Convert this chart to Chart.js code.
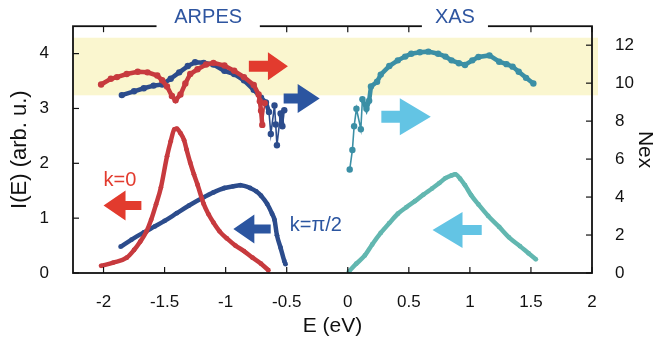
<!DOCTYPE html>
<html>
<head>
<meta charset="utf-8">
<script src="https://cdn.jsdelivr.net/npm/chart.js@4"></script>
<style>
  html, body { margin: 0; padding: 0; background: #fff; }
</style>
</head>
<body>
<canvas id="chart" width="657" height="340"></canvas>
<script>
// ─── Données ──────────────────────────────────────────────────────────────────
// ARPES k=0 (bas, axe gauche I(E))
const arpesK0E = [-2.02, -1.92, -1.81, -1.75, -1.70, -1.65, -1.61, -1.57, -1.53, -1.48, -1.45, -1.42, -1.40, -1.37, -1.34, -1.32, -1.29, -1.26, -1.23, -1.18, -1.14, -1.10, -1.05, -0.99, -0.92, -0.85, -0.78, -0.71, -0.65];
const arpesK0I = [0.13, 0.19, 0.28, 0.42, 0.57, 0.75, 0.97, 1.25, 1.56, 2.13, 2.40, 2.62, 2.63, 2.55, 2.42, 2.25, 2.01, 1.80, 1.61, 1.26, 1.07, 0.92, 0.76, 0.63, 0.50, 0.40, 0.28, 0.17, 0.05];

// ARPES k=π/2 (bas, axe gauche)
const arpesKpiE = [-1.86, -1.77, -1.67, -1.58, -1.50, -1.40, -1.30, -1.18, -1.10, -1.01, -0.94, -0.88, -0.80, -0.75, -0.71, -0.66, -0.62, -0.60, -0.58, -0.55, -0.52, -0.51];
const arpesKpiI = [0.48, 0.61, 0.74, 0.85, 0.95, 1.09, 1.23, 1.38, 1.47, 1.55, 1.58, 1.60, 1.55, 1.49, 1.41, 1.26, 1.08, 0.97, 0.69, 0.46, 0.22, 0.16];

// XAS (bas, axe gauche)
const xasE = [0.01, 0.07, 0.14, 0.20, 0.27, 0.34, 0.41, 0.48, 0.55, 0.62, 0.69, 0.75, 0.80, 0.85, 0.88, 0.92, 0.96, 1.01, 1.07, 1.15, 1.24, 1.32, 1.41, 1.48, 1.54];
const xasI = [0.03, 0.17, 0.32, 0.52, 0.73, 0.91, 1.08, 1.20, 1.31, 1.43, 1.54, 1.64, 1.73, 1.78, 1.80, 1.72, 1.60, 1.42, 1.25, 1.04, 0.84, 0.65, 0.49, 0.36, 0.25];

// Nex (haut, axe droit)
const nexK0E = [-2.02, -1.94, -1.89, -1.81, -1.72, -1.64, -1.56, -1.52, -1.48, -1.44, -1.41, -1.37, -1.33, -1.29, -1.23, -1.16, -1.10, -1.01, -0.93, -0.85, -0.77, -0.73, -0.72, -0.71, -0.70, -0.68];
const nexK0N = [9.93, 10.23, 10.32, 10.48, 10.6, 10.57, 10.4, 10.15, 9.82, 9.32, 9.1, 9.4, 9.98, 10.48, 10.73, 10.98, 11.07, 10.93, 10.65, 10.32, 9.9, 9.4, 9.05, 8.55, 7.8, 8.95];

const nexKpiE = [-1.85, -1.75, -1.67, -1.59, -1.52, -1.45, -1.38, -1.31, -1.25, -1.18, -1.10, -1.01, -0.93, -0.85, -0.77, -0.71, -0.67, -0.645, -0.63, -0.60, -0.59, -0.58, -0.55, -0.535, -0.52];
const nexKpiN = [9.37, 9.57, 9.73, 9.87, 9.93, 10.23, 10.57, 10.9, 11.1, 11.07, 10.98, 10.65, 10.48, 10.15, 9.65, 9.23, 8.98, 8.48, 7.32, 8.82, 7.82, 6.73, 8.4, 7.73, 8.57];

const nexXasE = [0.016, 0.038, 0.052, 0.071, 0.107, 0.12, 0.153, 0.175, 0.19, 0.24, 0.27, 0.34, 0.41, 0.47, 0.52, 0.59, 0.66, 0.74, 0.80, 0.85, 0.91, 0.96, 1.02, 1.07, 1.16, 1.24, 1.30, 1.35, 1.40, 1.46, 1.52];
const nexXasN = [5.45, 6.48, 7.73, 8.65, 7.57, 9.15, 8.65, 9.07, 9.82, 10.07, 10.45, 10.9, 11.2, 11.4, 11.55, 11.63, 11.66, 11.55, 11.4, 11.2, 11.05, 10.96, 11.2, 11.38, 11.46, 11.13, 11.0, 10.87, 10.6, 10.28, 9.98];

// Graduations
const xTicks = [-2, -1.5, -1, -0.5, 0, 0.5, 1, 1.5, 2];
const leftTicks = [0, 1, 2, 3, 4];
const rightTicks = [0, 2, 4, 6, 8, 10, 12];
const bandRange = [3.24, 4.29]; // bande jaune, unités de l'axe gauche

// ─── Style ────────────────────────────────────────────────────────────────────
Chart.defaults.font.family = "'Liberation Sans', Arial, Helvetica, sans-serif";
Chart.defaults.color = "#111";

const COLORS = {
  red: "#c73a3e",
  blue: "#2c4c8c",
  tealDark: "#3b8fa5",
  teal: "#62b7b0",
  arrowRed: "#e23b2e",
  arrowBlue: "#2b55a0",
  arrowCyan: "#63c4e4",
  band: "#faf6cf",
  label: "#2e55a0",
};

// Flèches : x en eV, y en unités de l'axe gauche, tailles en px
const arrows = [
  { from: -0.81, to: -0.49, y: 3.77, head: 20, body: 11, wide: 28, color: COLORS.arrowRed },
  { from: -0.525, to: -0.23, y: 3.18, head: 22, body: 10, wide: 29, color: COLORS.arrowBlue },
  { from: 0.275, to: 0.68, y: 2.85, head: 31, body: 12, wide: 37, color: COLORS.arrowCyan },
  { from: -1.69, to: -2.0, y: 1.23, head: 22, body: 9, wide: 30, color: COLORS.arrowRed },
  { from: -0.631, to: -0.937, y: 0.80, head: 21, body: 9, wide: 29, color: COLORS.arrowBlue },
  { from: 1.097, to: 0.694, y: 0.785, head: 30, body: 10, wide: 36, color: COLORS.arrowCyan },
];

const notes = [
  { text: "k=0", x: -2.0, y: 1.68, color: COLORS.arrowRed },
  { text: "k=π/2", x: -0.475, y: 0.865, color: COLORS.arrowBlue },
];

const boxes = [
  { text: "ARPES", from: -1.566, to: -0.72 },
  { text: "XAS", from: 0.607, to: 1.148 },
];

function pts(xs, ys) {
  return xs.map((x, i) => ({ x, y: ys[i] }));
}

function lowerSet(label, xs, ys, color) {
  return {
    label, data: pts(xs, ys), yAxisID: "y",
    borderColor: color, backgroundColor: color,
    borderWidth: 4.5, pointRadius: 2.4, pointBorderWidth: 0,
    cubicInterpolationMode: "monotone",
  };
}

// les sauts bruités sont tracés en trait fin, le reste en chaîne épaisse
function upperSet(label, xs, ys, color) {
  return {
    label, data: pts(xs, ys), yAxisID: "y2",
    borderColor: color, backgroundColor: color,
    pointRadius: 3.2, pointBorderWidth: 0,
    segment: {
      borderWidth: (c) => (Math.abs(c.p1.parsed.y - c.p0.parsed.y) > 0.8 ? 1.6 : 4.5),
    },
  };
}

function line(ctx, x0, y0, x1, y1) {
  ctx.beginPath();
  ctx.moveTo(x0, y0);
  ctx.lineTo(x1, y1);
  ctx.stroke();
}

function drawArrow(ctx, xs, ys, a) {
  const tail = xs.getPixelForValue(a.from);
  const tip = xs.getPixelForValue(a.to);
  const y = ys.getPixelForValue(a.y);
  const base = tip - Math.sign(tip - tail) * a.head;
  ctx.fillStyle = a.color;
  ctx.beginPath();
  ctx.moveTo(tail, y - a.body / 2);
  ctx.lineTo(base, y - a.body / 2);
  ctx.lineTo(base, y - a.wide / 2);
  ctx.lineTo(tip, y);
  ctx.lineTo(base, y + a.wide / 2);
  ctx.lineTo(base, y + a.body / 2);
  ctx.lineTo(tail, y + a.body / 2);
  ctx.closePath();
  ctx.fill();
}

const decor = {
  id: "decor",
  beforeDatasetsDraw(chart) {
    const { ctx, chartArea: a, scales } = chart;
    const top = scales.y.getPixelForValue(bandRange[1]);
    const bot = scales.y.getPixelForValue(bandRange[0]);
    ctx.save();
    ctx.fillStyle = COLORS.band;
    ctx.fillRect(a.left, top, a.right - a.left + 6, bot - top);
    ctx.restore();
  },
  afterDatasetsDraw(chart) {
    const { ctx, scales } = chart;
    ctx.save();
    arrows.forEach((a) => drawArrow(ctx, scales.x, scales.y, a));
    ctx.font = "20px 'Liberation Sans', Arial, sans-serif";
    ctx.textBaseline = "middle";
    ctx.textAlign = "left";
    notes.forEach((n) => {
      ctx.fillStyle = n.color;
      ctx.fillText(n.text, scales.x.getPixelForValue(n.x), scales.y.getPixelForValue(n.y));
    });
    ctx.restore();
  },
  afterDraw(chart) {
    const { ctx, chartArea: a, scales } = chart;
    ctx.save();
    ctx.strokeStyle = "#111";
    ctx.lineWidth = 1.2;
    xTicks.forEach((v) => {
      const px = scales.x.getPixelForValue(v);
      line(ctx, px, a.bottom, px, a.bottom - 6);
      line(ctx, px, a.top, px, a.top + 6);
    });
    leftTicks.forEach((v) => {
      const py = scales.y.getPixelForValue(v);
      line(ctx, a.left, py, a.left + 6, py);
    });
    rightTicks.forEach((v) => {
      const py = scales.y2.getPixelForValue(v);
      line(ctx, a.right, py, a.right - 6, py);
    });
    ctx.lineWidth = 1.8;
    ctx.strokeRect(a.left, a.top, a.right - a.left, a.bottom - a.top);

    // cartouches ARPES / XAS
    ctx.font = "20px 'Liberation Sans', Arial, sans-serif";
    ctx.textAlign = "center";
    ctx.textBaseline = "middle";
    boxes.forEach((b) => {
      const x0 = scales.x.getPixelForValue(b.from);
      const x1 = scales.x.getPixelForValue(b.to);
      ctx.fillStyle = "#fff";
      ctx.fillRect(x0, 0, x1 - x0, 36);
      ctx.fillStyle = COLORS.label;
      ctx.fillText(b.text, (x0 + x1) / 2, 17);
    });
    ctx.restore();
  },
};

function axisTicks(values) {
  return (s) => { s.ticks = values.map((v) => ({ value: v })); };
}

new Chart(document.getElementById("chart"), {
  type: "line",
  data: {
    datasets: [
      lowerSet("ARPES k=0", arpesK0E, arpesK0I, COLORS.red),
      lowerSet("ARPES k=π/2", arpesKpiE, arpesKpiI, COLORS.blue),
      lowerSet("XAS", xasE, xasI, COLORS.teal),
      upperSet("Nex k=0", nexK0E, nexK0N, COLORS.red),
      upperSet("Nex k=π/2", nexKpiE, nexKpiN, COLORS.blue),
      upperSet("Nex XAS", nexXasE, nexXasN, COLORS.tealDark),
    ],
  },
  options: {
    responsive: false,
    animation: false,
    layout: { padding: { top: 13, left: 0, right: 0, bottom: 0 } },
    plugins: { legend: { display: false }, tooltip: { enabled: false } },
    scales: {
      x: {
        type: "linear", min: -2.25, max: 2,
        afterBuildTicks: axisTicks(xTicks),
        afterFit: (s) => { s.height = 67; },
        grid: { display: false }, border: { display: false },
        ticks: { padding: 11, font: { size: 17 }, color: "#111", maxRotation: 0, autoSkip: false, callback: (v) => String(v) },
        title: { display: true, text: "E (eV)", font: { size: 21 }, color: "#111", padding: { top: 0, bottom: 1 } },
      },
      y: {
        type: "linear", position: "left", min: 0, max: 4.5,
        afterBuildTicks: axisTicks(leftTicks),
        afterFit: (s) => { s.width = 73; },
        grid: { display: false }, border: { display: false },
        ticks: { padding: 16, font: { size: 17 }, color: "#111", callback: (v) => String(v) },
        title: { display: true, text: "I(E) (arb. u.)", font: { size: 22 }, color: "#111", padding: { top: 7, bottom: 0 } },
      },
      y2: {
        type: "linear", position: "right", min: 0, max: 13,
        afterBuildTicks: axisTicks(rightTicks),
        afterFit: (s) => { s.width = 65; },
        grid: { display: false }, border: { display: false },
        ticks: { padding: 15, font: { size: 17 }, color: "#111", callback: (v) => String(v) },
        title: { display: true, text: "Nex", font: { size: 21 }, color: "#111", padding: { top: 0, bottom: 2 } },
      },
    },
  },
  plugins: [decor],
});
</script>
</body>
</html>
